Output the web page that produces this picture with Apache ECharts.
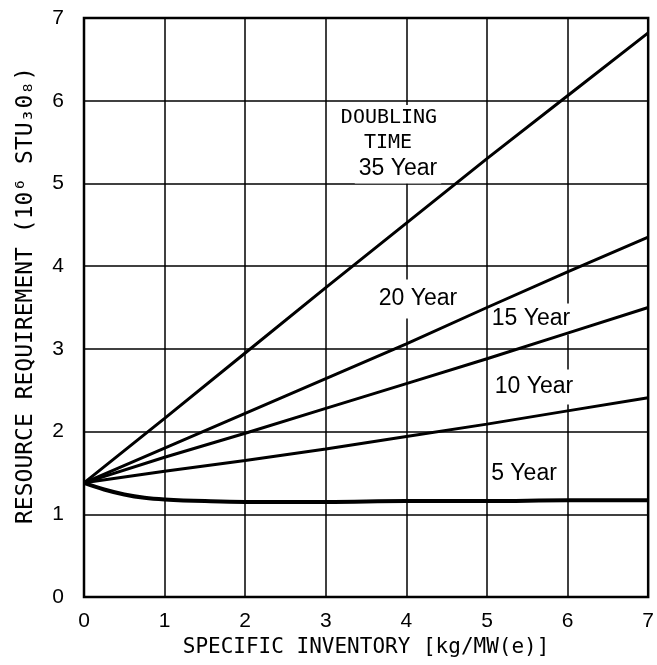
<!DOCTYPE html>
<html>
<head>
<meta charset="utf-8">
<script src="https://cdn.jsdelivr.net/npm/echarts@6/dist/echarts.min.js"></script>
<style>
  html, body { margin: 0; padding: 0; background: #fff; }
  #main { width: 657px; height: 665px; }
</style>
</head>
<body>
<div id="main"></div>
<script>
// specific inventory, kg/MW(e)
var inventory = [0, 1, 2, 3, 4, 5, 6, 7];
// resource requirement, 10^6 STU3O8, one list per doubling time
var year35 = [1.38, 2.16, 2.95, 3.74, 4.52, 5.30, 6.06, 6.82];
var year20 = [1.38, 1.80, 2.22, 2.64, 3.06, 3.50, 3.93, 4.35];
var year15 = [1.38, 1.69, 1.98, 2.28, 2.58, 2.88, 3.19, 3.50];
var year10 = [1.38, 1.52, 1.65, 1.79, 1.94, 2.09, 2.25, 2.41];
// the 5 year curve bends near zero, read at a few more points
var inventory5 = [0, 0.25, 0.5, 0.75, 1, 1.5, 2, 3, 4, 5, 6, 7];
var year5 = [1.38, 1.30, 1.24, 1.20, 1.18, 1.16, 1.15, 1.15, 1.16, 1.16, 1.17, 1.17];
var ticks = ['0', '1', '2', '3', '4', '5', '6', '7'];

function pairs (xs, ys) {
  return xs.map(function (x, i) { return [x, ys[i]]; });
}

var myChart = echarts.init(document.getElementById('main'));

var tickFont = 'Liberation Sans';
var monoFont = 'DejaVu Sans Mono';

function curve (name, xs, ys, width) {
  return {
    name: name,
    type: 'line',
    data: pairs(xs, ys),
    showSymbol: false,
    smooth: name === '5 Year' ? 0.4 : false,
    lineStyle: { color: '#000', width: width },
    z: 3,
    silent: true
  };
}

// label with white box, breaks grid lines like the original
function tag (text, cx, cy, font, size, pad) {
  return {
    type: 'text',
    x: cx,
    y: cy,
    z: 1,
    style: {
      text: text,
      font: size + 'px "' + font + '"',
      fill: '#000',
      align: 'center',
      verticalAlign: 'middle',
      backgroundColor: '#fff',
      padding: pad
    }
  };
}

var option = {
  animation: false,
  grid: {
    left: 84,
    right: 8,
    top: 18,
    bottom: 68,
    show: true,
    borderColor: '#000',
    borderWidth: 2.5
  },
  xAxis: {
    type: 'value',
    min: 0,
    max: 7,
    interval: 1,
    name: 'SPECIFIC INVENTORY [kg/MW(e)]',
    nameLocation: 'middle',
    nameGap: 34,
    nameTextStyle: { fontFamily: monoFont, fontSize: 21, color: '#000' },
    axisLine: { show: false },
    axisTick: { show: false },
    axisLabel: {
      margin: 14,
      fontFamily: tickFont,
      fontSize: 21,
      color: '#000',
      formatter: function (v) { return ticks[v]; }
    },
    splitLine: { show: true, lineStyle: { color: '#000', width: 1.5 } }
  },
  yAxis: {
    type: 'value',
    min: 0,
    max: 7,
    interval: 1,
    name: 'RESOURCE REQUIREMENT (10\u2076 STU\u20830\u2088)',
    nameLocation: 'middle',
    nameGap: 46,
    nameTextStyle: {
      fontFamily: monoFont,
      fontSize: 23,
      color: '#000',
      padding: [0, 0, 0, 24]
    },
    axisLine: { show: false },
    axisTick: { show: false },
    axisLabel: {
      margin: 20,
      fontFamily: tickFont,
      fontSize: 21,
      color: '#000',
      formatter: function (v) { return ticks[v]; }
    },
    splitLine: { show: true, lineStyle: { color: '#000', width: 1.5 } }
  },
  series: [
    curve('35 Year', inventory, year35, 3),
    curve('20 Year', inventory, year20, 3),
    curve('15 Year', inventory, year15, 3),
    curve('10 Year', inventory, year10, 3),
    curve('5 Year', inventory5, year5, 4)
  ],
  graphic: [
    tag('DOUBLING', 389, 118, monoFont, 20, [4, 6, 2, 6]),
    tag('TIME', 388, 143, monoFont, 20, [2, 6, 2, 6]),
    tag('35 Year', 398, 169, tickFont, 23, [2, 4, 4, 4]),
    tag('20 Year', 418, 299, tickFont, 23, [8, 6, 8, 6]),
    tag('15 Year', 532, 319, tickFont, 23, [4, 4, 4, 2]),
    tag('10 Year', 534, 387, tickFont, 23, [6, 4, 6, 4]),
    tag('5 Year', 524, 474, tickFont, 23, [2, 2, 2, 2])
  ]
};

myChart.setOption(option);
</script>
</body>
</html>
